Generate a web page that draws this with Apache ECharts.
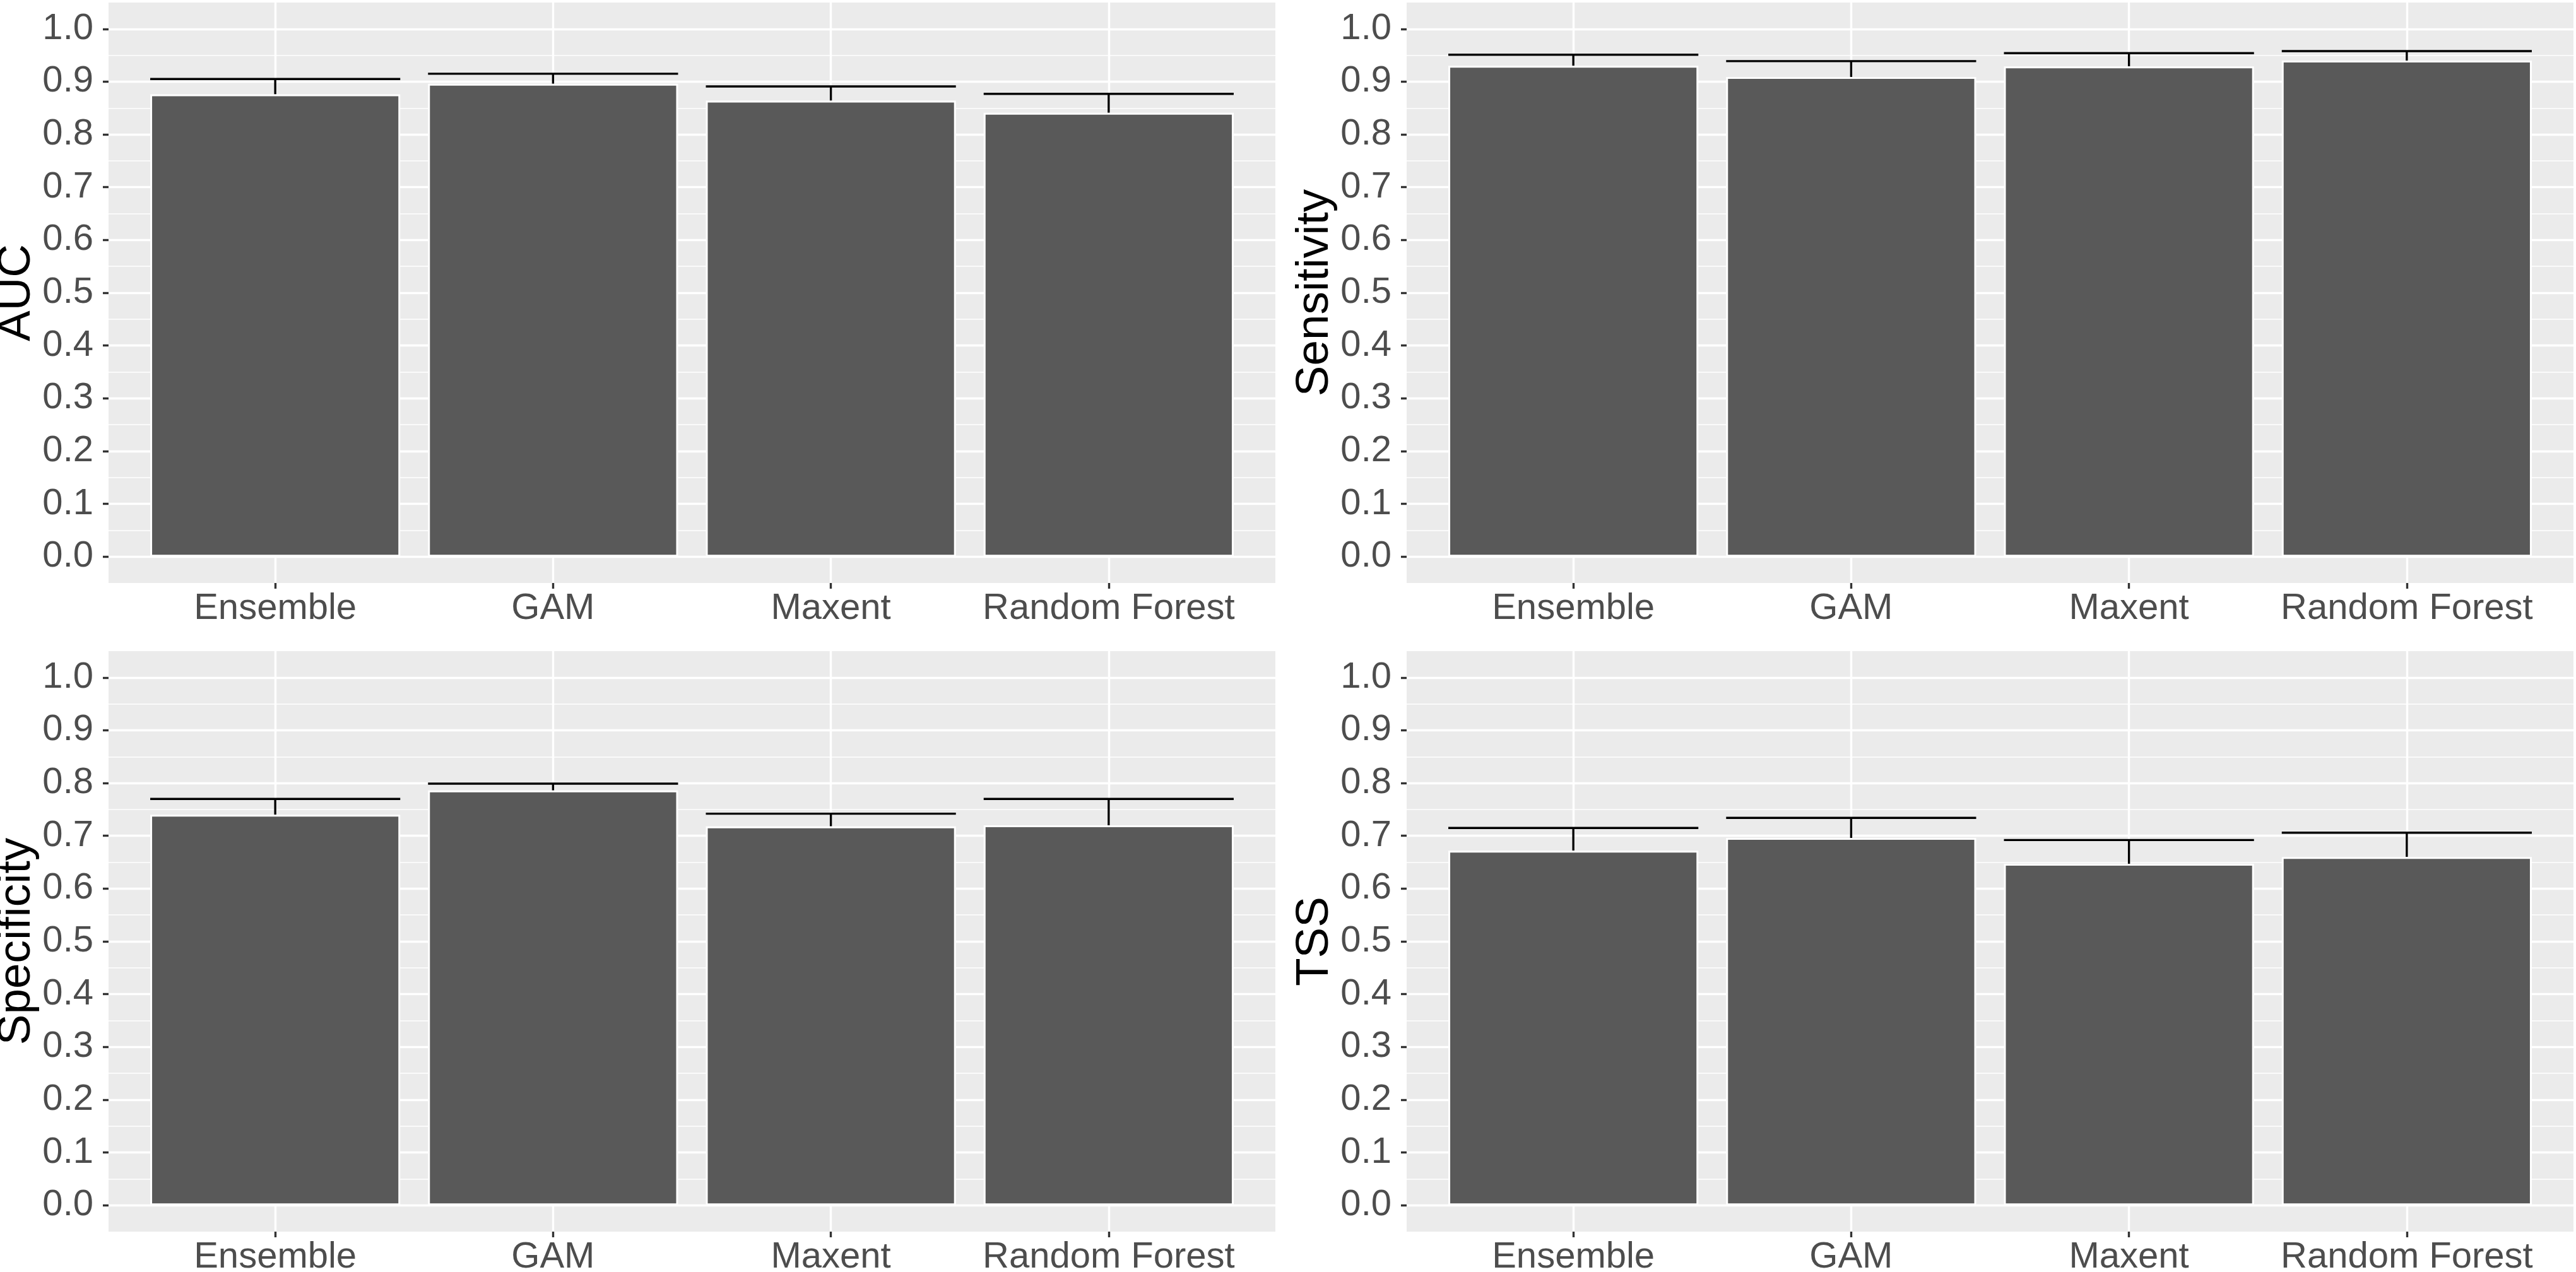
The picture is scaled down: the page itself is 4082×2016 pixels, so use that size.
<!DOCTYPE html>
<html>
<head>
<meta charset="utf-8">
<script src="https://cdn.jsdelivr.net/npm/echarts@6/dist/echarts.min.js"></script>
<style>
html, body { margin: 0; padding: 0; background: #fff; }
#chart { width: 4082px; height: 2016px; }
</style>
</head>
<body>
<div id="chart"></div>
<script>
// model names and their x positions on the discrete axis
var models = ['Ensemble', 'GAM', 'Maxent', 'Random Forest'];
var modelPos = [1, 2, 3, 4];

// mean score (bar height) and upper end of the error bar
var aucMean = [0.876, 0.896, 0.864, 0.841];
var aucUpper = [0.905, 0.915, 0.891, 0.877];
var sensMean = [0.930, 0.909, 0.929, 0.940];
var sensUpper = [0.951, 0.939, 0.954, 0.958];
var specMean = [0.740, 0.786, 0.718, 0.720];
var specUpper = [0.770, 0.799, 0.742, 0.770];
var tssMean = [0.672, 0.696, 0.647, 0.660];
var tssUpper = [0.715, 0.734, 0.692, 0.706];

var yTicks = [0, 0.1, 0.2, 0.3, 0.4, 0.5, 0.6, 0.7, 0.8, 0.9, 1.0];
var panelNames = ['AUC', 'Sensitivity', 'Specificity', 'TSS'];
var panelMeans = [aucMean, sensMean, specMean, tssMean];
var panelUppers = [aucUpper, sensUpper, specUpper, tssUpper];

var font = "'Liberation Sans', Arial, sans-serif";
var clear = 'rgba(0,0,0,0)';
var errorBarWidth = 0.9;
var boxes = [
    {left: 172, top: 4},
    {left: 2229, top: 4},
    {left: 172, top: 1032},
    {left: 2229, top: 1032}
];

var renderErrorBar = function(params, api) {
    var x = api.value(0);
    var m = api.value(1);
    var u = api.value(2);
    var top = api.coord([x, u]);
    var base = api.coord([x, m]);
    var l = api.coord([x - errorBarWidth / 2, u]);
    var r = api.coord([x + errorBarWidth / 2, u]);
    var style = {stroke: '#000', lineWidth: 3.4};
    return {
        type: 'group',
        children: [
            {type: 'line', shape: {x1: top[0], y1: top[1], x2: base[0], y2: base[1]}, style: style},
            {type: 'line', shape: {x1: l[0], y1: l[1], x2: r[0], y2: r[1]}, style: style}
        ]
    };
};

var grids = [], xAxes = [], yAxes = [], series = [];
for (var i = 0; i < 4; i++) {
    grids.push({
        left: boxes[i].left, top: boxes[i].top, width: 1849, height: 920,
        show: true, backgroundColor: '#EBEBEB', borderWidth: 0,
        outerBoundsMode: 'none'
    });
    // vertical grid lines at each model
    xAxes.push({
        type: 'value', gridIndex: i, min: 0.4, max: 4.6, interval: 0.2, position: 'bottom',
        axisLine: {show: false, onZero: false}, axisTick: {show: false}, axisLabel: {show: false},
        splitLine: {show: true, lineStyle: {color: [clear, clear, clear, '#fff', clear], width: 3.4}}
    });
    // model labels + ticks
    xAxes.push({
        type: 'value', gridIndex: i, min: 0.4, max: 4.6, position: 'bottom',
        axisLine: {show: false, onZero: false},
        axisTick: {show: true, customValues: modelPos, length: 9, lineStyle: {color: '#333', width: 3.4}},
        axisLabel: {
            customValues: modelPos, fontSize: 58, color: '#4D4D4D', fontFamily: font, margin: 12,
            formatter: function(v) { return models[Math.round(v) - 1]; }
        },
        splitLine: {show: false}
    });
    // minor horizontal lines
    yAxes.push({
        type: 'value', gridIndex: i, min: -0.05, max: 1.05, interval: 0.05, position: 'left',
        axisLine: {show: false, onZero: false}, axisTick: {show: false}, axisLabel: {show: false},
        splitLine: {show: true, showMinLine: false, showMaxLine: false, lineStyle: {color: '#fff', width: 1.7}}
    });
    // major horizontal lines
    yAxes.push({
        type: 'value', gridIndex: i, min: -0.05, max: 1.05, interval: 0.05, position: 'left',
        axisLine: {show: false, onZero: false}, axisTick: {show: false}, axisLabel: {show: false},
        splitLine: {show: true, lineStyle: {color: [clear, '#fff'], width: 3.4}}
    });
    // tick labels, ticks, title
    yAxes.push({
        type: 'value', gridIndex: i, min: -0.05, max: 1.05, position: 'left',
        name: panelNames[i], nameLocation: 'middle', nameGap: 103,
        nameTextStyle: {fontSize: 73, color: '#000', fontFamily: font},
        axisLine: {show: false, onZero: false},
        axisTick: {show: true, customValues: yTicks, length: 9, lineStyle: {color: '#333', width: 3.4}},
        axisLabel: {
            customValues: yTicks, fontSize: 58, color: '#4D4D4D', fontFamily: font, margin: 24,
            formatter: function(v) { return v.toFixed(1); }
        },
        splitLine: {show: false}
    });

    var barData = [], errData = [];
    for (var k = 0; k < models.length; k++) {
        barData.push([modelPos[k], panelMeans[i][k]]);
        errData.push([modelPos[k], panelMeans[i][k], panelUppers[i][k]]);
    }
    series.push({
        type: 'bar', xAxisIndex: 2 * i, yAxisIndex: 3 * i, data: barData,
        barWidth: '90%', z: 3, silent: true,
        itemStyle: {color: '#595959', borderColor: '#fff', borderWidth: 3}
    });
    series.push({
        type: 'custom', xAxisIndex: 2 * i, yAxisIndex: 3 * i, data: errData,
        renderItem: renderErrorBar, z: 2, silent: true
    });
}

var chart = echarts.init(document.getElementById('chart'));
chart.setOption({
    animation: false,
    backgroundColor: '#fff',
    grid: grids,
    xAxis: xAxes,
    yAxis: yAxes,
    series: series
});
</script>
</body>
</html>
